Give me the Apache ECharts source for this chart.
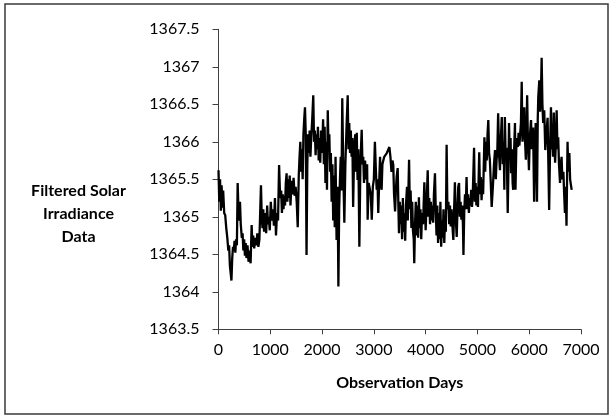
<!DOCTYPE html>
<html>
<head>
<meta charset="utf-8">
<script src="https://cdn.jsdelivr.net/npm/echarts@6/dist/echarts.min.js"></script>
<style>
  html, body { margin: 0; padding: 0; background: #fff; }
  #chart { width: 614px; height: 418px; }
</style>
</head>
<body>
<div id="chart"></div>
<script>
// Observation day of each filtered sample
const days = [
  0, 15, 30, 45, 60, 75, 90, 110, 130, 150, 170, 190, 205, 220, 235, 250, 265, 280, 295, 310,
  325, 340, 355, 370, 385, 400, 415, 430, 450, 465, 480, 495, 510, 525, 540, 560, 580, 600, 620, 640,
  655, 670, 690, 710, 730, 750, 770, 790, 820, 835, 850, 865, 880, 900, 920, 940, 955, 970, 990, 1010,
  1030, 1050, 1070, 1090, 1110, 1130, 1150, 1170, 1190, 1210, 1225, 1240, 1255, 1270, 1285, 1300, 1315, 1330, 1345, 1360,
  1375, 1390, 1410, 1430, 1450, 1470, 1490, 1510, 1530, 1550, 1565, 1580, 1595, 1610, 1625, 1640, 1655, 1670, 1685, 1700,
  1715, 1730, 1745, 1760, 1775, 1790, 1810, 1830, 1845, 1860, 1875, 1890, 1905, 1920, 1935, 1950, 1965, 1980, 2000, 2020,
  2035, 2050, 2065, 2080, 2095, 2110, 2125, 2140, 2155, 2170, 2185, 2200, 2215, 2230, 2245, 2260, 2280, 2300, 2315, 2330,
  2345, 2360, 2375, 2390, 2410, 2430, 2450, 2475, 2495, 2510, 2525, 2540, 2555, 2570, 2585, 2600, 2620, 2640, 2655, 2670,
  2685, 2700, 2720, 2740, 2765, 2780, 2795, 2810, 2830, 2850, 2870, 2880, 2900, 2925, 2940, 2960, 2980, 3000, 3020, 3040,
  3055, 3070, 3085, 3100, 3120, 3135, 3150, 3165, 3200, 3250, 3300, 3320, 3340, 3360, 3375, 3390, 3410, 3425, 3440, 3460,
  3475, 3485, 3500, 3515, 3530, 3545, 3560, 3575, 3590, 3605, 3620, 3640, 3655, 3680, 3695, 3710, 3725, 3740, 3755, 3770,
  3780, 3795, 3810, 3825, 3840, 3855, 3870, 3885, 3900, 3915, 3930, 3950, 3975, 4000, 4020, 4040, 4055, 4070, 4085, 4100,
  4115, 4130, 4145, 4160, 4180, 4195, 4210, 4225, 4240, 4255, 4270, 4285, 4300, 4315, 4330, 4345, 4360, 4375, 4390, 4405,
  4420, 4440, 4455, 4470, 4485, 4500, 4520, 4535, 4550, 4565, 4580, 4600, 4615, 4630, 4645, 4660, 4675, 4690, 4705, 4720,
  4730, 4745, 4760, 4775, 4790, 4805, 4820, 4835, 4850, 4865, 4880, 4895, 4910, 4935, 4950, 4965, 4980, 4995, 5010, 5035,
  5050, 5065, 5080, 5095, 5110, 5135, 5150, 5165, 5180, 5195, 5210, 5225, 5240, 5255, 5275, 5290, 5305, 5320, 5340, 5355,
  5370, 5385, 5400, 5420, 5435, 5450, 5470, 5490, 5505, 5520, 5530, 5545, 5565, 5585, 5600, 5610, 5625, 5640, 5650, 5665,
  5680, 5690, 5705, 5725, 5735, 5750, 5765, 5780, 5795, 5810, 5825, 5840, 5855, 5870, 5885, 5905, 5920, 5935, 5950, 5960,
  5975, 5995, 6010, 6035, 6050, 6075, 6095, 6110, 6125, 6140, 6150, 6165, 6175, 6195, 6210, 6225, 6240, 6255, 6270, 6290,
  6310, 6330, 6355, 6370, 6385, 6400, 6420, 6435, 6445, 6460, 6475, 6490, 6500, 6515, 6530, 6545, 6560, 6575, 6595, 6610,
  6625, 6640, 6660, 6675, 6690, 6705, 6720, 6740, 6755, 6775, 6790, 6800, 6820
];

// Filtered total solar irradiance (W/m^2) at each observation day
const irradiance = [
  1365.62, 1365.20, 1365.50, 1365.08, 1365.42, 1365.12, 1365.35, 1365.05, 1365.02, 1364.85, 1364.72, 1364.55, 1364.62, 1364.35, 1364.25, 1364.15, 1364.45, 1364.60, 1364.55, 1364.68,
  1364.52, 1364.70, 1364.62, 1365.45, 1365.10, 1364.95, 1365.20, 1364.90, 1364.72, 1364.78, 1364.55, 1364.70, 1364.48, 1364.65, 1364.45, 1364.62, 1364.40, 1364.55, 1364.38, 1364.89,
  1364.60, 1364.75, 1364.58, 1364.72, 1364.62, 1364.78, 1364.60, 1364.70, 1365.42, 1365.00, 1364.85, 1365.10, 1364.80, 1365.05, 1364.78, 1365.15, 1364.90, 1365.00, 1364.82, 1365.20,
  1364.95, 1365.10, 1364.88, 1365.25, 1364.75, 1365.05, 1364.95, 1365.69, 1365.25, 1365.35, 1365.05, 1365.30, 1365.10, 1365.28, 1365.15, 1365.45, 1365.58, 1365.20, 1365.50, 1365.25,
  1365.55, 1365.15, 1365.48, 1365.30, 1365.52, 1365.28, 1365.40, 1365.20, 1364.86, 1365.55, 1365.80, 1366.00, 1365.60, 1365.90, 1365.50, 1366.10, 1366.30, 1366.46, 1366.10, 1364.49,
  1365.70, 1366.10, 1365.85, 1366.15, 1365.80, 1366.05, 1366.30, 1366.62, 1366.00, 1366.15, 1365.82, 1366.10, 1365.90, 1366.20, 1365.75, 1366.05, 1365.72, 1366.15, 1365.85, 1366.30,
  1365.70, 1366.20, 1365.45, 1366.00, 1365.36, 1366.42, 1365.90, 1366.10, 1365.60, 1365.85, 1365.20, 1365.70, 1364.95, 1365.55, 1364.86, 1365.80, 1364.69, 1365.40, 1364.07, 1365.10,
  1365.49, 1365.80, 1365.35, 1366.58, 1365.60, 1364.92, 1365.70, 1366.25, 1366.62, 1365.90, 1366.25, 1365.85, 1366.15, 1365.80, 1366.05, 1365.13, 1365.90, 1366.10, 1365.60, 1366.12,
  1365.49, 1365.90, 1364.60, 1365.70, 1366.16, 1365.70, 1365.80, 1365.45, 1365.75, 1365.50, 1365.70, 1364.96, 1365.45, 1365.46, 1365.30, 1364.96, 1365.40, 1365.50, 1366.00, 1365.60,
  1365.36, 1365.50, 1365.05, 1365.40, 1365.80, 1365.45, 1365.36, 1365.70, 1365.80, 1365.85, 1365.93, 1365.80, 1365.60, 1365.75, 1365.69, 1365.30, 1365.07, 1365.35, 1365.53, 1365.65,
  1365.10, 1364.78, 1365.20, 1364.90, 1365.15, 1364.70, 1365.25, 1364.80, 1365.05, 1364.68, 1365.15, 1365.40, 1364.95, 1365.76, 1365.10, 1365.35, 1364.85, 1365.20, 1364.82, 1364.70,
  1364.38, 1364.90, 1365.20, 1364.75, 1365.15, 1364.72, 1365.26, 1364.85, 1365.10, 1364.70, 1365.05, 1364.90, 1365.46, 1364.82, 1365.20, 1365.62, 1365.00, 1365.25, 1364.90, 1365.20,
  1364.95, 1365.15, 1364.92, 1365.30, 1365.58, 1365.10, 1364.75, 1365.15, 1364.65, 1365.05, 1364.70, 1365.20, 1364.60, 1364.95, 1364.72, 1365.10, 1364.65, 1365.00, 1364.80, 1365.96,
  1365.10, 1365.20, 1364.90, 1365.15, 1364.87, 1365.10, 1364.85, 1364.69, 1365.10, 1365.46, 1365.00, 1364.73, 1365.10, 1365.40, 1365.45, 1365.00, 1365.20, 1364.96, 1365.15, 1364.90,
  1364.49, 1365.05, 1365.30, 1365.10, 1365.53, 1365.10, 1365.30, 1365.05, 1365.25, 1365.15, 1365.36, 1365.13, 1365.30, 1365.92, 1365.20, 1365.45, 1365.15, 1365.40, 1365.13, 1365.86,
  1365.30, 1365.53, 1365.22, 1365.50, 1365.30, 1366.06, 1365.60, 1366.00, 1365.75, 1366.10, 1366.29, 1365.85, 1365.76, 1365.50, 1365.13, 1365.30, 1365.49, 1365.70, 1365.89, 1365.50,
  1365.76, 1365.90, 1366.38, 1365.80, 1365.62, 1366.00, 1366.33, 1365.70, 1366.00, 1365.36, 1366.33, 1365.80, 1365.92, 1365.05, 1365.70, 1366.25, 1365.80, 1366.05, 1365.58, 1365.90,
  1365.45, 1365.36, 1365.80, 1366.25, 1365.36, 1365.90, 1366.05, 1365.93, 1366.12, 1365.95, 1366.10, 1366.25, 1366.80, 1366.00, 1366.19, 1366.46, 1366.00, 1365.76, 1366.20, 1366.62,
  1366.00, 1365.62, 1366.05, 1366.29, 1365.90, 1366.19, 1365.20, 1365.90, 1366.25, 1365.80, 1365.20, 1366.30, 1366.60, 1366.82, 1366.40, 1366.60, 1367.12, 1366.50, 1366.25, 1366.42,
  1365.89, 1366.10, 1366.32, 1365.70, 1365.09, 1365.80, 1366.46, 1365.90, 1366.06, 1365.80, 1366.39, 1365.90, 1365.72, 1366.00, 1366.42, 1365.90, 1366.06, 1365.70, 1365.45, 1365.70,
  1365.80, 1365.50, 1365.60, 1365.30, 1365.05, 1365.40, 1364.88, 1366.00, 1365.60, 1365.85, 1365.50, 1365.45, 1365.36
];

// Axis ranges and tick spacing
const xTicks = [0, 1000, 2000, 3000, 4000, 5000, 6000, 7000];
const yTicks = [1363.5, 1364, 1364.5, 1365, 1365.5, 1366, 1366.5, 1367, 1367.5];

const xTitle = 'Observation Days';
const yTitleLines = ['Filtered Solar', 'Irradiance', 'Data'];

const FONT = 'Lato, "Open Sans", sans-serif';
const AXIS_COLOR = '#404040';

const series = days.map((d, i) => [d, irradiance[i]]);

const chart = echarts.init(document.getElementById('chart'), null, { renderer: 'canvas' });

chart.setOption({
  animation: false,
  backgroundColor: '#ffffff',
  grid: {
    left: 218.5,
    top: 29.3,
    right: 33,
    bottom: 88.7,
    containLabel: false,
    outerBoundsMode: 'none'
  },
  xAxis: {
    type: 'value',
    min: xTicks[0],
    max: xTicks[xTicks.length - 1],
    interval: xTicks[1] - xTicks[0],
    name: xTitle,
    nameLocation: 'middle',
    nameGap: 46,
    nameTextStyle: { fontFamily: FONT, fontWeight: 'bold', fontSize: 16, color: '#000' },
    axisLine: { show: true, onZero: false, lineStyle: { color: AXIS_COLOR, width: 1 } },
    axisTick: { show: true, inside: false, length: 5, lineStyle: { color: AXIS_COLOR, width: 1 } },
    axisLabel: {
      fontFamily: FONT, fontSize: 16, color: '#000', margin: 13,
      formatter: v => String(v)
    },
    splitLine: { show: false }
  },
  yAxis: {
    type: 'value',
    min: yTicks[0],
    max: yTicks[yTicks.length - 1],
    interval: yTicks[1] - yTicks[0],
    axisLine: { show: true, onZero: false, lineStyle: { color: AXIS_COLOR, width: 1 } },
    axisTick: { show: true, inside: false, length: 6, lineStyle: { color: AXIS_COLOR, width: 1 } },
    axisLabel: {
      fontFamily: FONT, fontSize: 16, color: '#000', margin: 19,
      formatter: v => String(v)
    },
    splitLine: { show: false }
  },
  graphic: [
    {
      type: 'rect',
      shape: { x: 5, y: 4, width: 603, height: 410 },
      style: { fill: 'none', stroke: '#3a3a3a', lineWidth: 1.5 },
      silent: true,
      z: -1
    },
    {
      type: 'text',
      x: 78.5,
      y: 213.5,
      style: {
        text: yTitleLines.join('\n'),
        fontFamily: FONT,
        fontWeight: 'bold',
        fontSize: 16,
        lineHeight: 23,
        fill: '#000',
        align: 'center',
        verticalAlign: 'middle'
      }
    }
  ],
  series: [
    {
      type: 'line',
      data: series,
      showSymbol: false,
      smooth: false,
      lineStyle: { color: '#000000', width: 2.3 },
      itemStyle: { color: '#000000' },
      clip: true
    }
  ]
});
</script>
</body>
</html>
